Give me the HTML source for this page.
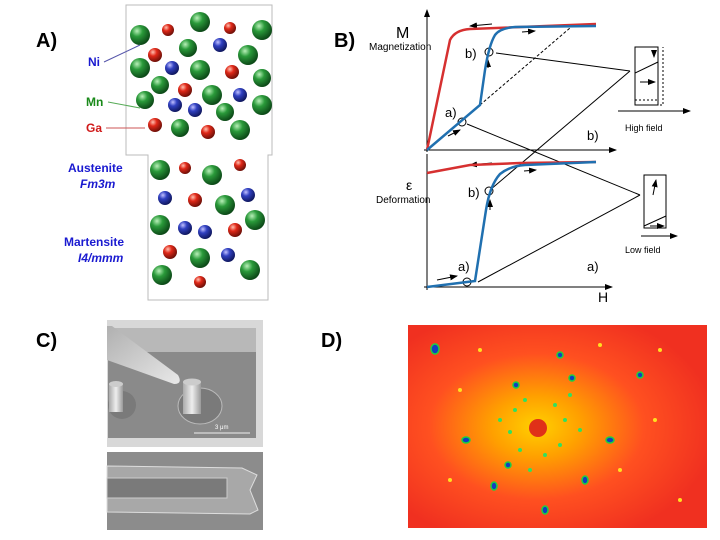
<!DOCTYPE html>
<html><head><meta charset="utf-8"><style>
body{margin:0;background:#fff;width:720px;height:540px;overflow:hidden}
svg{display:block}
text{font-family:"Liberation Sans",sans-serif}
</style></head><body>
<svg width="720" height="540" viewBox="0 0 720 540">
<defs>
<radialGradient id="g" cx="35%" cy="30%" r="70%"><stop offset="0" stop-color="#b8f0b8"/><stop offset=".4" stop-color="#2a9a3a"/><stop offset="1" stop-color="#0d4a18"/></radialGradient>
<radialGradient id="r" cx="35%" cy="30%" r="70%"><stop offset="0" stop-color="#ffc0b0"/><stop offset=".4" stop-color="#e02818"/><stop offset="1" stop-color="#701008"/></radialGradient>
<radialGradient id="b" cx="35%" cy="30%" r="70%"><stop offset="0" stop-color="#c0c0ff"/><stop offset=".4" stop-color="#3040c0"/><stop offset="1" stop-color="#101860"/></radialGradient>
<radialGradient id="diff" cx="43%" cy="50%" r="60%"><stop offset="0" stop-color="#ffd000"/><stop offset=".25" stop-color="#ffa000"/><stop offset=".6" stop-color="#ff5020"/><stop offset="1" stop-color="#f03020"/></radialGradient>
<linearGradient id="tip" x1="0" y1="0" x2="1" y2="1"><stop offset="0" stop-color="#b0b0b0"/><stop offset="1" stop-color="#e8e8e8"/></linearGradient>
<linearGradient id="pil" x1="0" y1="0" x2="1" y2="0"><stop offset="0" stop-color="#aaa"/><stop offset=".5" stop-color="#eee"/><stop offset="1" stop-color="#999"/></linearGradient>
<marker id="ar" markerWidth="8" markerHeight="6" refX="7" refY="3" orient="auto"><path d="M0,0L8,3L0,6z" fill="#000"/></marker>
</defs>

<!-- A -->
<text x="36" y="47" font-size="20" font-weight="bold">A)</text>
<path d="M126,5H272V155H268V300H148V155H126Z" fill="#fff" stroke="#bbb"/>
<g>
<circle cx="140" cy="35" r="10" fill="url(#g)"/><circle cx="200" cy="22" r="10" fill="url(#g)"/><circle cx="262" cy="30" r="10" fill="url(#g)"/>
<circle cx="168" cy="30" r="6" fill="url(#r)"/><circle cx="230" cy="28" r="6" fill="url(#r)"/>
<circle cx="155" cy="55" r="7" fill="url(#r)"/><circle cx="188" cy="48" r="9" fill="url(#g)"/><circle cx="220" cy="45" r="7" fill="url(#b)"/><circle cx="248" cy="55" r="10" fill="url(#g)"/>
<circle cx="140" cy="68" r="10" fill="url(#g)"/><circle cx="172" cy="68" r="7" fill="url(#b)"/><circle cx="200" cy="70" r="10" fill="url(#g)"/><circle cx="232" cy="72" r="7" fill="url(#r)"/><circle cx="262" cy="78" r="9" fill="url(#g)"/>
<circle cx="160" cy="85" r="9" fill="url(#g)"/><circle cx="185" cy="90" r="7" fill="url(#r)"/><circle cx="212" cy="95" r="10" fill="url(#g)"/><circle cx="240" cy="95" r="7" fill="url(#b)"/>
<circle cx="145" cy="100" r="9" fill="url(#g)"/><circle cx="175" cy="105" r="7" fill="url(#b)"/><circle cx="195" cy="110" r="7" fill="url(#b)"/><circle cx="225" cy="112" r="9" fill="url(#g)"/><circle cx="262" cy="105" r="10" fill="url(#g)"/>
<circle cx="155" cy="125" r="7" fill="url(#r)"/><circle cx="180" cy="128" r="9" fill="url(#g)"/><circle cx="208" cy="132" r="7" fill="url(#r)"/><circle cx="240" cy="130" r="10" fill="url(#g)"/>
<circle cx="160" cy="170" r="10" fill="url(#g)"/><circle cx="185" cy="168" r="6" fill="url(#r)"/><circle cx="212" cy="175" r="10" fill="url(#g)"/><circle cx="240" cy="165" r="6" fill="url(#r)"/>
<circle cx="165" cy="198" r="7" fill="url(#b)"/><circle cx="195" cy="200" r="7" fill="url(#r)"/><circle cx="225" cy="205" r="10" fill="url(#g)"/><circle cx="248" cy="195" r="7" fill="url(#b)"/>
<circle cx="160" cy="225" r="10" fill="url(#g)"/><circle cx="185" cy="228" r="7" fill="url(#b)"/><circle cx="205" cy="232" r="7" fill="url(#b)"/><circle cx="235" cy="230" r="7" fill="url(#r)"/><circle cx="255" cy="220" r="10" fill="url(#g)"/>
<circle cx="170" cy="252" r="7" fill="url(#r)"/><circle cx="200" cy="258" r="10" fill="url(#g)"/><circle cx="228" cy="255" r="7" fill="url(#b)"/>
<circle cx="162" cy="275" r="10" fill="url(#g)"/><circle cx="200" cy="282" r="6" fill="url(#r)"/><circle cx="250" cy="270" r="10" fill="url(#g)"/>
</g>
<text x="88" y="66" font-size="12" font-weight="bold" fill="#1a1ad0">Ni</text>
<text x="86" y="106" font-size="12" font-weight="bold" fill="#1a8a1a">Mn</text>
<text x="86" y="132" font-size="12" font-weight="bold" fill="#d01a1a">Ga</text>
<line x1="104" y1="62" x2="140" y2="45" stroke="#55a"/><line x1="108" y1="102" x2="140" y2="108" stroke="#5a5"/><line x1="106" y1="128" x2="145" y2="128" stroke="#c55"/>
<text x="68" y="172" font-size="12" font-weight="bold" fill="#1a1ad0">Austenite</text>
<text x="80" y="188" font-size="12" font-weight="bold" font-style="italic" fill="#1a1ad0">Fm3m</text>
<text x="64" y="246" font-size="12" font-weight="bold" fill="#1a1ad0">Martensite</text>
<text x="78" y="262" font-size="12" font-weight="bold" font-style="italic" fill="#1a1ad0">I4/mmm</text>

<!-- B -->
<text x="334" y="47" font-size="20" font-weight="bold">B)</text>
<g fill="none" stroke="#000" stroke-width="1">
<line x1="427" y1="152" x2="427" y2="10" marker-end="url(#ar)"/>
<line x1="424" y1="150" x2="616" y2="150" marker-end="url(#ar)"/>
<line x1="427" y1="290" x2="427" y2="154"/>
<line x1="424" y1="287" x2="612" y2="287" marker-end="url(#ar)"/>
<line x1="480" y1="105" x2="570" y2="28" stroke-dasharray="3,2"/>
<line x1="496" y1="53" x2="630" y2="71"/><line x1="630" y1="71" x2="490" y2="190"/>
<line x1="467" y1="124" x2="640" y2="195"/><line x1="640" y1="195" x2="478" y2="282"/>
<rect x="635" y="47" width="23" height="58"/><path d="M658,47V105H663V47" stroke-dasharray="2,2"/>
<line x1="635" y1="100" x2="658" y2="100" stroke-dasharray="2,2"/>
<line x1="635" y1="73" x2="658" y2="62"/>
<line x1="618" y1="111" x2="690" y2="111" marker-end="url(#ar)"/>
<rect x="644" y="175" width="22" height="53"/>
<line x1="644" y1="226" x2="666" y2="216"/>
<line x1="641" y1="236" x2="677" y2="236" marker-end="url(#ar)"/>
<circle cx="489" cy="52" r="4"/><circle cx="462" cy="122" r="4"/>
<circle cx="489" cy="191" r="4"/><circle cx="467" cy="282" r="4"/>
</g>
<g stroke="#000" stroke-width="1" marker-end="url(#ar)">
<line x1="488" y1="68" x2="488" y2="60"/><line x1="448" y1="136" x2="460" y2="130"/>
<line x1="490" y1="210" x2="490" y2="200"/><line x1="437" y1="280" x2="457" y2="276"/>
<line x1="492" y1="24" x2="470" y2="26"/><line x1="522" y1="32" x2="535" y2="31"/>
<line x1="492" y1="163" x2="470" y2="165"/><line x1="524" y1="171" x2="536" y2="170"/>
<line x1="640" y1="82" x2="655" y2="82"/><line x1="654" y1="50" x2="654" y2="57"/>
<line x1="650" y1="226" x2="664" y2="226"/><line x1="653" y1="195" x2="656" y2="180"/>
</g>
<path d="M427,150L450,40Q455,30 470,29L596,24" fill="none" stroke="#d63030" stroke-width="2.5"/>
<path d="M427,150L480,105L485,70Q489,45 495,35Q500,28 515,27L596,26" fill="none" stroke="#2070b0" stroke-width="2.5"/>
<path d="M427,173L470,165L520,163L596,162" fill="none" stroke="#d63030" stroke-width="2.5"/>
<path d="M427,287L475,281L486,210Q490,185 500,174Q510,166 525,165L596,162" fill="none" stroke="#2070b0" stroke-width="2.5"/>
<text x="396" y="38" font-size="16">M</text>
<text x="369" y="50" font-size="10">Magnetization</text>
<text x="465" y="58" font-size="13">b)</text><text x="445" y="117" font-size="13">a)</text><text x="587" y="140" font-size="13">b)</text>
<text x="406" y="190" font-size="14">ε</text>
<text x="376" y="203" font-size="10">Deformation</text>
<text x="468" y="197" font-size="13">b)</text><text x="458" y="271" font-size="13">a)</text><text x="587" y="271" font-size="13">a)</text>
<text x="598" y="302" font-size="14">H</text>
<text x="625" y="131" font-size="9">High field</text>
<text x="625" y="253" font-size="9">Low field</text>

<!-- C -->
<text x="36" y="347" font-size="20" font-weight="bold">C)</text>
<rect x="107" y="320" width="156" height="127" fill="#d8d8d8"/>
<rect x="108" y="328" width="148" height="110" fill="#8a8a8a"/>
<rect x="108" y="328" width="148" height="24" fill="#b8b8b8"/>
<ellipse cx="122" cy="405" rx="14" ry="14" fill="#7a7a7a"/>
<ellipse cx="200" cy="406" rx="22" ry="18" fill="#7a7a7a" stroke="#bbb"/>
<rect x="109" y="384" width="14" height="28" fill="url(#pil)"/><ellipse cx="116" cy="384" rx="7" ry="3" fill="#ccc"/>
<rect x="183" y="382" width="18" height="32" fill="url(#pil)"/><ellipse cx="192" cy="382" rx="9" ry="3.5" fill="#ccc"/>
<path d="M107,326L112,326L178,375Q183,384 174,384L107,360Z" fill="url(#tip)"/>
<line x1="194" y1="433" x2="250" y2="433" stroke="#eee"/>
<text x="215" y="429" font-size="6" fill="#fff">3 μm</text>
<rect x="107" y="452" width="156" height="78" fill="#8c8c8c"/>
<path d="M107,466L242,468L257,475L250,490L258,510L250,514L107,512Z" fill="#a8a8a8" stroke="#ddd"/>
<rect x="107" y="478" width="120" height="20" fill="#7a7a7a" stroke="#ccc"/>
</g>

<!-- D -->
<text x="321" y="347" font-size="20" font-weight="bold">D)</text>
<rect x="408" y="325" width="299" height="203" fill="url(#diff)"/>
<circle cx="538" cy="428" r="9" fill="#e03018"/>
<g fill="#1040c0" stroke="#20d040" stroke-width="1.5">
<ellipse cx="435" cy="349" rx="4" ry="5"/><ellipse cx="466" cy="440" rx="4" ry="3"/><ellipse cx="494" cy="486" rx="3" ry="4"/>
<ellipse cx="516" cy="385" rx="3" ry="3"/><ellipse cx="572" cy="378" rx="3" ry="3"/><ellipse cx="610" cy="440" rx="4" ry="3"/>
<ellipse cx="585" cy="480" rx="3" ry="4"/><ellipse cx="545" cy="510" rx="3" ry="4"/><ellipse cx="640" cy="375" rx="3" ry="3"/>
<ellipse cx="508" cy="465" rx="3" ry="3"/><ellipse cx="560" cy="355" rx="3" ry="3"/>
</g>
<g fill="#30e060">
<circle cx="515" cy="410" r="2"/><circle cx="525" cy="400" r="2"/><circle cx="555" cy="405" r="2"/><circle cx="565" cy="420" r="2"/>
<circle cx="560" cy="445" r="2"/><circle cx="545" cy="455" r="2"/><circle cx="520" cy="450" r="2"/><circle cx="510" cy="432" r="2"/>
<circle cx="500" cy="420" r="2"/><circle cx="580" cy="430" r="2"/><circle cx="530" cy="470" r="2"/><circle cx="570" cy="395" r="2"/>
</g>
<g fill="#ffe020">
<circle cx="460" cy="390" r="2"/><circle cx="620" cy="470" r="2"/><circle cx="480" cy="350" r="2"/><circle cx="655" cy="420" r="2"/>
<circle cx="450" cy="480" r="2"/><circle cx="600" cy="345" r="2"/><circle cx="680" cy="500" r="2"/><circle cx="660" cy="350" r="2"/>
</g>
</svg>
</body></html>
